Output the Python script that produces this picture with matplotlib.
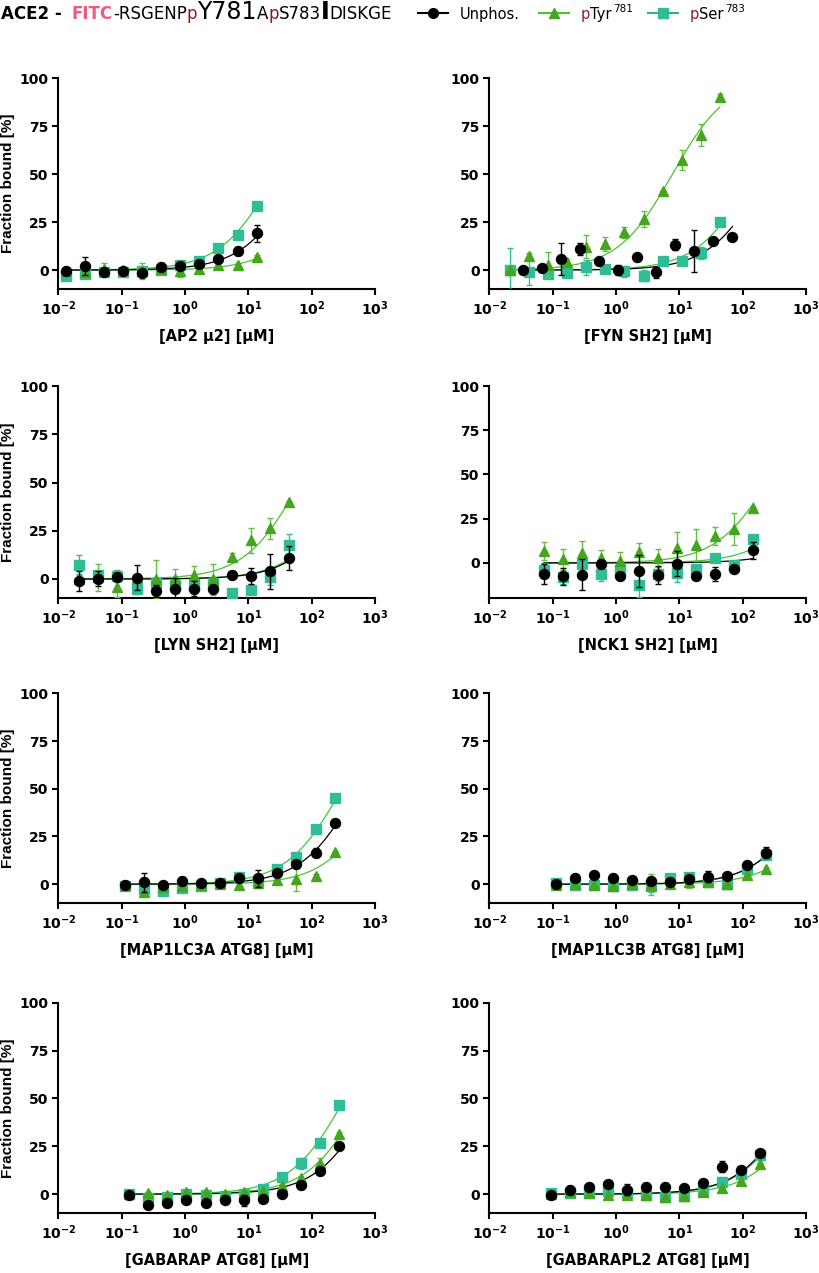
import numpy as np
import matplotlib.pyplot as plt
from matplotlib.lines import Line2D
from matplotlib.transforms import IdentityTransform

plt.rcParams['font.family'] = ['DejaVu Sans']
plt.rcParams['mathtext.fontset'] = 'dejavusans'

# ---- data (fraction bound %, mean and error) ----
ap2_conc = [0.0132, 0.0264, 0.0527, 0.105, 0.211, 0.422, 0.844, 1.69, 3.38, 6.75, 13.5]
ap2_unphos = [-0.7, 1.9, -1.0, -0.5, -1.7, 1.7, 1.9, 3.3, 5.9, 10.0, 19.1]
ap2_unphos_err = [0.8, 4.7, 0.8, 0.8, 0.8, 2.0, 1.5, 0.8, 0.8, 2.2, 4.5]
ap2_ptyr = [-0.3, -1.0, 0.5, 0.0, -0.5, 0.5, -0.5, 0.8, 2.8, 2.8, 6.9]
ap2_ptyr_err = [0.8, 0.8, 3.0, 0.8, 4.0, 0.8, 3.0, 0.8, 0.8, 0.8, 0.8]
ap2_pser = [-3.0, -2.0, -0.8, -1.2, -0.5, 0.0, 2.6, 4.7, 11.6, 18.4, 33.2]
ap2_pser_err = [0.8, 0.8, 0.8, 0.8, 0.8, 0.8, 0.8, 0.8, 0.8, 0.8, 0.8]
ap2_kd = [64, 210, 27]

fyn_conc_unphos = [0.0337, 0.0674, 0.135, 0.270, 0.539, 1.08, 2.16, 4.31, 8.63, 17.3, 34.5, 69.0]
fyn_conc = [0.0213, 0.0426, 0.0852, 0.170, 0.341, 0.681, 1.36, 2.73, 5.45, 10.9, 21.8, 43.6]
fyn_unphos = [0.2, 1.2, 5.7, 10.9, 4.5, 0.2, 6.6, -1.2, 13.2, 10.1, 15.3, 17.4]
fyn_unphos_err = [0.8, 0.8, 8.5, 3.0, 2.0, 2.5, 2.0, 3.0, 3.0, 11.0, 0.8, 0.8]
fyn_ptyr = [0.0, 7.1, 2.8, 4.0, 12.2, 13.5, 19.6, 26.6, 41.0, 57.3, 70.3, 89.9]
fyn_ptyr_err = [2.0, 2.0, 6.4, 2.0, 6.0, 3.5, 3.0, 4.0, 0.8, 5.2, 5.6, 2.0]
fyn_pser = [0.0, -0.9, -2.1, -1.7, 1.4, 0.5, -0.7, -2.9, 4.5, 4.5, 8.9, 24.8]
fyn_pser_err = [11.3, 7.0, 0.8, 2.0, 4.0, 0.8, 3.0, 3.0, 2.0, 2.0, 3.0, 2.0]
fyn_kd = [235, 7.8, 145]

lyn_conc = [0.0215, 0.043, 0.086, 0.172, 0.344, 0.688, 1.375, 2.75, 5.5, 11.0, 22.0, 44.0]
lyn_unphos = [-0.9, 0.2, 1.0, 0.7, -6.3, -5.0, -5.0, -5.0, 2.3, 1.6, 4.0, 10.9]
lyn_unphos_err = [5.2, 4.0, 2.0, 6.4, 3.0, 5.5, 4.0, 2.0, 2.0, 4.0, 9.0, 6.0]
lyn_ptyr = [0.0, 1.0, -4.2, 0.5, 0.2, 0.2, 1.9, -0.2, 11.5, 20.1, 26.2, 39.8]
lyn_ptyr_err = [2.0, 7.0, 5.0, 2.0, 9.8, 5.0, 5.0, 8.0, 2.0, 6.5, 5.5, 0.8]
lyn_pser = [7.5, 1.9, 1.6, -5.0, -1.9, -3.0, -3.0, -1.9, -7.3, -5.9, 0.9, 17.5]
lyn_pser_err = [5.0, 2.0, 3.0, 3.0, 2.0, 2.0, 2.0, 3.0, 0.8, 0.8, 4.0, 5.6]
lyn_kd = [420, 65, 380]

nck1_conc = [0.0723, 0.145, 0.289, 0.578, 1.16, 2.31, 4.63, 9.25, 18.5, 37.0, 74.0, 148.0]
nck1_unphos = [-6.1, -7.6, -6.7, -0.4, -7.4, -4.4, -6.7, -0.4, -7.6, -6.1, -3.2, 7.2]
nck1_unphos_err = [5.7, 4.8, 8.8, 0.8, 0.8, 9.0, 5.0, 7.0, 0.8, 4.0, 0.8, 4.8]
nck1_ptyr = [6.7, 2.1, 5.7, 2.5, 1.0, 6.3, 2.9, 8.6, 10.1, 15.4, 19.0, 31.0]
nck1_ptyr_err = [5.2, 6.0, 6.7, 5.0, 5.0, 5.0, 5.0, 8.8, 9.0, 5.0, 9.0, 0.8]
nck1_pser = [-4.2, -8.0, -0.4, -6.1, -4.2, -12.4, -6.1, -5.7, -3.2, 2.9, -0.9, 13.3]
nck1_pser_err = [4.0, 4.0, 0.8, 4.0, 4.0, 6.7, 4.0, 5.0, 0.8, 0.8, 0.8, 0.8]
nck1_kd = [5800, 290, 1650]

lc3a_conc = [0.112, 0.225, 0.449, 0.898, 1.80, 3.59, 7.19, 14.4, 28.75, 57.5, 115.0, 230.0]
lc3a_unphos = [-0.3, 0.9, -0.3, 1.7, 0.5, 0.5, 3.0, 3.0, 5.7, 10.4, 16.5, 32.3]
lc3a_unphos_err = [2.0, 5.2, 0.8, 2.0, 0.8, 0.8, 0.8, 4.5, 0.8, 0.8, 2.5, 0.8]
lc3a_ptyr = [-0.5, -4.3, -1.5, -1.0, -0.5, 0.0, -0.3, 0.8, 2.0, 2.5, 4.3, 16.7]
lc3a_ptyr_err = [0.8, 0.8, 0.8, 0.8, 0.8, 0.8, 0.8, 3.0, 0.8, 6.0, 0.8, 0.8]
lc3a_pser = [-1.0, -2.6, -3.5, -2.0, -1.0, 0.5, 3.8, 1.5, 7.8, 14.4, 28.7, 45.0]
lc3a_pser_err = [2.0, 0.8, 0.8, 2.0, 0.8, 0.8, 0.8, 0.8, 0.8, 0.8, 1.5, 0.8]
lc3a_kd = [530, 1300, 300]

lc3b_conc = [0.112, 0.225, 0.449, 0.898, 1.80, 3.59, 7.19, 14.4, 28.75, 57.5, 115.0, 230.0]
lc3b_unphos = [0.0, 3.5, 4.7, 3.5, 2.3, 1.7, 1.2, 2.6, 4.0, 4.3, 9.9, 16.5]
lc3b_unphos_err = [0.8, 0.8, 0.8, 0.8, 0.8, 2.0, 0.8, 0.8, 3.0, 0.8, 0.8, 3.0]
lc3b_ptyr = [-0.3, 0.0, -0.3, -0.9, 0.3, -0.3, 0.0, 0.9, 0.9, 0.3, 4.7, 8.2]
lc3b_ptyr_err = [0.8, 0.8, 0.8, 0.8, 0.8, 5.5, 0.8, 3.0, 0.8, 0.8, 0.8, 0.8]
lc3b_pser = [0.5, -0.5, -0.5, -0.9, -0.5, -0.9, 3.5, 4.0, 0.9, 0.0, 8.0, 15.1]
lc3b_pser_err = [2.0, 0.8, 0.8, 0.8, 0.8, 3.0, 2.0, 2.0, 0.8, 0.8, 0.8, 0.8]
lc3b_kd = [1320, 2800, 1350]

gab_conc = [0.132, 0.264, 0.527, 1.05, 2.11, 4.22, 8.44, 16.9, 33.75, 67.5, 135.0, 270.0]
gab_unphos = [-0.3, -5.6, -4.7, -3.0, -4.4, -3.2, -3.2, -2.3, 0.0, 4.7, 11.9, 25.3]
gab_unphos_err = [0.8, 0.8, 0.8, 0.8, 0.8, 0.8, 3.0, 0.8, 0.8, 0.8, 0.8, 0.8]
gab_ptyr = [0.0, 0.5, -0.3, 1.0, 1.0, 0.3, 1.0, 1.5, 4.5, 8.5, 16.5, 31.5]
gab_ptyr_err = [0.8, 0.8, 0.8, 0.8, 0.8, 0.8, 0.8, 0.8, 0.8, 0.8, 2.5, 0.8]
gab_pser = [0.0, -2.1, -1.4, 0.0, -0.3, -0.9, 0.0, 2.6, 8.7, 16.1, 26.6, 46.8]
gab_pser_err = [0.8, 0.8, 0.8, 0.8, 0.8, 0.8, 0.8, 0.8, 0.8, 3.0, 0.8, 0.8]
gab_kd = [920, 640, 335]

gabl2_conc = [0.0928, 0.186, 0.371, 0.742, 1.48, 2.97, 5.94, 11.9, 23.75, 47.5, 95.0, 190.0]
gabl2_unphos = [-0.2, 2.4, 3.5, 5.1, 2.4, 3.8, 3.8, 3.3, 5.6, 14.4, 12.5, 21.3]
gabl2_unphos_err = [0.8, 2.0, 2.0, 0.8, 3.0, 2.0, 2.0, 0.8, 0.8, 3.0, 0.8, 0.8]
gabl2_ptyr = [0.0, 1.0, 0.5, -0.5, -0.5, -0.5, -1.7, -1.0, 1.2, 3.3, 6.8, 15.5]
gabl2_ptyr_err = [0.8] * 12
gabl2_pser = [0.5, 0.5, 0.5, 1.6, 0.5, -0.5, -1.7, -1.0, 1.6, 6.4, 10.3, 20.4]
gabl2_pser_err = [0.8, 0.8, 2.0, 0.8, 0.8, 0.8, 0.8, 0.8, 0.8, 0.8, 0.8, 0.8]
gabl2_kd = [715, 1230, 760]

xlabels = ['[AP2 µ2] [µM]', '[FYN SH2] [µM]', '[LYN SH2] [µM]', '[NCK1 SH2] [µM]',
           '[MAP1LC3A ATG8] [µM]', '[MAP1LC3B ATG8] [µM]',
           '[GABARAP ATG8] [µM]', '[GABARAPL2 ATG8] [µM]']
ymins = [-10, -10, -10, -20, -10, -10, -10, -10]

panels = [
    (ap2_conc, ap2_conc, ap2_unphos, ap2_unphos_err, ap2_ptyr, ap2_ptyr_err, ap2_pser, ap2_pser_err, ap2_kd),
    (fyn_conc_unphos, fyn_conc, fyn_unphos, fyn_unphos_err, fyn_ptyr, fyn_ptyr_err, fyn_pser, fyn_pser_err, fyn_kd),
    (lyn_conc, lyn_conc, lyn_unphos, lyn_unphos_err, lyn_ptyr, lyn_ptyr_err, lyn_pser, lyn_pser_err, lyn_kd),
    (nck1_conc, nck1_conc, nck1_unphos, nck1_unphos_err, nck1_ptyr, nck1_ptyr_err, nck1_pser, nck1_pser_err, nck1_kd),
    (lc3a_conc, lc3a_conc, lc3a_unphos, lc3a_unphos_err, lc3a_ptyr, lc3a_ptyr_err, lc3a_pser, lc3a_pser_err, lc3a_kd),
    (lc3b_conc, lc3b_conc, lc3b_unphos, lc3b_unphos_err, lc3b_ptyr, lc3b_ptyr_err, lc3b_pser, lc3b_pser_err, lc3b_kd),
    (gab_conc, gab_conc, gab_unphos, gab_unphos_err, gab_ptyr, gab_ptyr_err, gab_pser, gab_pser_err, gab_kd),
    (gabl2_conc, gabl2_conc, gabl2_unphos, gabl2_unphos_err, gabl2_ptyr, gabl2_ptyr_err, gabl2_pser, gabl2_pser_err, gabl2_kd),
]

BLACK = '#000000'
GREEN = '#45a51c'
GREEN_ERR = '#62c03e'
GREEN_LINE = '#4cc22e'
TEAL = '#30bd95'
TEAL_LINE = '#3fc63a'
PINK = '#f2587e'
DARKRED = '#8b1e22'

W, H = 819, 1273
fig = plt.figure(figsize=(W / 100, H / 100), dpi=100)

col_x = [58.3, 489.3]
ax_w = 316.7
row_top = [78, 386, 693.3, 1002.7]
row_bot = [289.3, 598.3, 903.3, 1213.3]


def binding_curve(ax, conc, kd, color):
    xx = np.logspace(np.log10(min(conc)), np.log10(max(conc)), 200)
    ax.plot(xx, 100 * xx / (kd + xx), color=color, lw=0.9, zorder=2)


for i, p in enumerate(panels):
    x_unp, x_ph, unp, unp_e, ptyr, ptyr_e, pser, pser_e, kd = p
    r, c = divmod(i, 2)
    x0 = col_x[c]
    ax = fig.add_axes([x0 / W, 1 - row_bot[r] / H, ax_w / W, (row_bot[r] - row_top[r]) / H])

    binding_curve(ax, x_ph, kd[2], TEAL_LINE)
    binding_curve(ax, x_ph, kd[1], GREEN_LINE)
    binding_curve(ax, x_unp, kd[0], BLACK)

    ax.errorbar(x_ph, pser, yerr=pser_e, fmt='s', color=TEAL, ecolor=TEAL, ms=6.5,
                elinewidth=1, capsize=2, capthick=1, zorder=3)
    ax.errorbar(x_ph, ptyr, yerr=ptyr_e, fmt='^', color=GREEN, ecolor=GREEN_ERR, ms=7,
                elinewidth=1, capsize=2, capthick=1, zorder=4)
    ax.errorbar(x_unp, unp, yerr=unp_e, fmt='o', color=BLACK, ecolor=BLACK, ms=7.2,
                elinewidth=1, capsize=2, capthick=1, zorder=5)

    ax.set_xscale('log')
    ax.set_xlim(1e-2, 1e3)
    ax.set_ylim(ymins[i], 100)
    ax.set_xticks([1e-2, 1e-1, 1e0, 1e1, 1e2, 1e3])
    ax.set_xticklabels([r'$\mathbf{10^{%d}}$' % k for k in range(-2, 4)])
    ax.xaxis.set_minor_locator(plt.NullLocator())
    ax.set_yticks([0, 25, 50, 75, 100])
    for s in ['top', 'right']:
        ax.spines[s].set_visible(False)
    for s in ['left', 'bottom']:
        ax.spines[s].set_linewidth(1.5)
    ax.tick_params(width=1.5, length=4, labelsize=10, pad=3)
    for lab in ax.get_yticklabels():
        lab.set_fontweight('bold')
    ax.set_xlabel(xlabels[i], fontsize=10.5, fontweight='bold', labelpad=8)
    if c == 0:
        ax.set_ylabel('Fraction bound [%]', family='Liberation Sans', fontsize=11,
                      fontweight='bold', labelpad=3)

# ---- header line: peptide sequence and legend ----
rend = fig.canvas.get_renderer()
ID = IdentityTransform()
base = H - 19


def seq(x, parts):
    for s, size, weight, color in parts:
        t = fig.text(x, base, s, transform=ID, fontsize=size, fontweight=weight,
                     color=color, va='baseline', ha='left')
        x = t.get_window_extent(rend).x1
    return x


xe = seq(1, [('ACE2 -', 12, 'bold', BLACK)])
seq(xe + 10, [('FITC', 12, 'bold', PINK), ('-RSGENP', 12, 'normal', BLACK),
              ('p', 12, 'normal', DARKRED), ('Y781', 17, 'normal', BLACK),
              ('A', 12, 'normal', BLACK), ('p', 12, 'normal', DARKRED),
              ('S783', 12, 'normal', BLACK), ('I', 17, 'bold', BLACK),
              ('DISKGE', 12, 'normal', BLACK)])

leg_y = H - 13
legend_items = [
    (418, BLACK, BLACK, 'o', 7, [('Unphos.', BLACK)], None),
    (539, GREEN_LINE, GREEN, '^', 7.5, [('p', DARKRED), ('Tyr', BLACK)], '781'),
    (648, '#34b07e', TEAL, 's', 6.5, [('p', DARKRED), ('Ser', BLACK)], '783'),
]
for lx, lcol, mcol, mk, ms, words, sup in legend_items:
    fig.add_artist(Line2D([lx, lx + 15, lx + 30], [leg_y] * 3, transform=ID, color=lcol,
                          lw=1.5, marker=mk, markevery=[1], ms=ms, mfc=mcol, mec=mcol))
    tx = lx + 42
    for s, col in words:
        t = fig.text(tx, base, s, transform=ID, fontsize=10.5, color=col,
                     va='baseline', ha='left')
        tx = t.get_window_extent(rend).x1
    if sup:
        fig.text(tx + 1, base + 7, sup, transform=ID, fontsize=7.5, color=BLACK,
                 va='baseline', ha='left')

fig.savefig('out.png', dpi=100)
